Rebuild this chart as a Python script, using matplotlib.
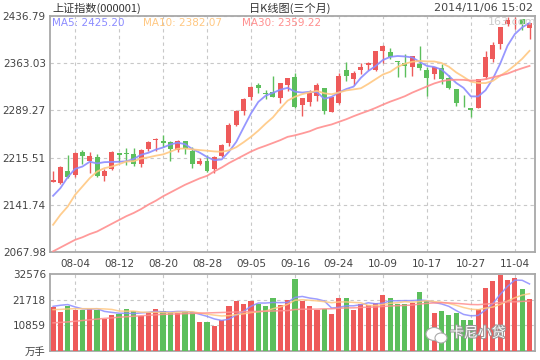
import matplotlib
matplotlib.use("Agg")
import matplotlib.pyplot as plt
import matplotlib.patheffects as pe
from matplotlib.patches import Ellipse
import numpy as np
import pandas as pd

plt.rcParams['font.family'] = ['DejaVu Sans', 'Noto Sans CJK SC']

# daily candles, 2014-07-30 .. 2014-11-06 (上证指数)
opens = [2178.1, 2175.5, 2194.8, 2188.5, 2224.4, 2210.9, 2216.6, 2187.5, 2197.4, 2222.8,
         2223.3, 2221.3, 2205.7, 2229.6, 2242.6, 2241.5, 2239.5, 2227.5, 2241.5, 2225.4,
         2206.2, 2209.8, 2197.9, 2218.7, 2238.9, 2267.0, 2288.8, 2310.7, 2328.9, 2316.9,
         2317.4, 2308.1, 2329.4, 2341.3, 2297.7, 2302.9, 2312.2, 2323.7, 2287.3, 2301.3,
         2352.3, 2338.2, 2352.8, 2360.6, 2352.3, 2382.4, 2380.3, 2365.8, 2363.2, 2357.5,
         2361.6, 2352.3, 2345.5, 2355.4, 2339.3, 2322.6, 2302.9, 2293.5, 2293.0, 2341.3,
         2369.4, 2392.3, 2425.0, 2428.7, 2431.8, 2418.8]
highs = [2194.8, 2202.5, 2219.7, 2223.9, 2227.5, 2224.4, 2221.3, 2197.4, 2225.4, 2223.3,
         2230.6, 2230.6, 2229.6, 2241.0, 2246.8, 2250.4, 2241.5, 2243.1, 2242.0, 2231.7,
         2215.6, 2219.2, 2218.1, 2236.3, 2269.1, 2289.9, 2308.1, 2327.3, 2331.5, 2321.1,
         2343.4, 2332.0, 2339.8, 2348.1, 2308.1, 2321.1, 2332.5, 2323.7, 2310.1, 2347.1,
         2364.2, 2350.2, 2363.7, 2364.7, 2381.9, 2391.2, 2387.1, 2365.8, 2376.7, 2374.1,
         2390.2, 2357.5, 2356.4, 2361.1, 2344.5, 2322.6, 2313.3, 2293.5, 2338.2, 2381.9,
         2396.4, 2419.3, 2435.4, 2435.4, 2432.8, 2425.5]
lows = [2177.1, 2174.0, 2183.3, 2185.9, 2205.2, 2192.2, 2184.9, 2179.7, 2196.3, 2208.3,
        2204.1, 2203.1, 2201.5, 2226.5, 2226.5, 2232.7, 2210.9, 2224.9, 2221.3, 2199.9,
        2203.6, 2193.2, 2191.1, 2217.1, 2233.2, 2264.9, 2282.6, 2305.5, 2315.9, 2306.5,
        2309.6, 2301.3, 2319.5, 2292.5, 2281.0, 2296.1, 2303.9, 2283.1, 2287.3, 2299.2,
        2335.6, 2328.9, 2345.5, 2352.3, 2351.2, 2363.7, 2369.4, 2340.8, 2341.9, 2343.4,
        2351.7, 2311.7, 2338.7, 2330.4, 2322.6, 2296.6, 2295.1, 2279.5, 2293.0, 2338.2,
        2365.2, 2384.5, 2421.4, 2416.7, 2414.6, 2401.6]
closes = [2180.7, 2200.5, 2184.9, 2222.8, 2218.7, 2218.2, 2187.5, 2194.8, 2224.4, 2220.2,
          2221.8, 2205.7, 2227.5, 2240.0, 2244.7, 2238.4, 2229.6, 2241.5, 2228.5, 2206.2,
          2210.9, 2195.3, 2216.1, 2234.8, 2266.5, 2288.8, 2307.0, 2325.7, 2324.7, 2315.3,
          2310.7, 2332.0, 2339.8, 2295.1, 2308.1, 2316.9, 2328.9, 2288.3, 2310.1, 2342.9,
          2342.9, 2348.1, 2357.5, 2362.6, 2381.9, 2390.2, 2372.0, 2364.7, 2359.0, 2374.1,
          2355.9, 2340.3, 2356.4, 2338.7, 2324.2, 2301.3, 2301.8, 2289.9, 2338.2, 2372.5,
          2391.2, 2419.3, 2430.2, 2429.7, 2425.0, 2425.5]
# 成交量 (万手)
volumes = [18640, 16500, 19210, 17360, 17500, 17930, 17500, 13520, 15230, 15800,
           17790, 16930, 14800, 16500, 17790, 16930, 16500, 16080, 16360, 16500,
           12240, 12240, 10530, 13090, 19210, 21200, 19920, 21200, 19920, 19210,
           22480, 19500, 21630, 30590, 21200, 19070, 17360, 17640, 15650, 22480,
           22480, 17360, 20060, 19640, 20350, 23760, 22480, 20060, 19920, 20350,
           25040, 21200, 16080, 16930, 15230, 16080, 13090, 13090, 17790, 26750,
           29740, 32300, 30170, 31020, 26330, 22060]

# MA values before the window fills (include earlier days)
ma5_head = [2155.8, 2167.8, 2184.9, 2197.9]
ma10_head = [2110.5, 2126.1, 2139.1, 2157.3, 2170.3, 2183.4, 2193.7, 2199.0, 2201.5]
ma30_head = [2069, 2075, 2081, 2087, 2091, 2096, 2100, 2106, 2112, 2118,
             2124, 2129, 2135, 2142, 2148, 2155, 2161, 2167, 2173, 2178,
             2183, 2187, 2194, 2200, 2207, 2213, 2219, 2225, 2230]
vma5_head = [18900, 19350, 19640, 18640]
vma10_head = [17500, 17600, 17800, 17900, 17900, 17900, 17900, 17800, 17600]
vma30_head = [11900, 12100, 12300, 12600, 12900, 13200, 13500, 13800, 14000, 14300,
              14500, 14700, 14900, 15100, 15300, 15500, 15600, 15700, 15800, 15900,
              16000, 16100, 16200, 16300, 16400, 16500, 16600, 16700, 16750]

xtick_pos = [3, 9, 15, 21, 27, 33, 39, 45, 51, 57, 63]
xtick_labels = ['08-04', '08-12', '08-20', '08-28', '09-05', '09-16',
                '09-24', '10-09', '10-17', '10-27', '11-04']
price_ticks = [2067.98, 2141.74, 2215.51, 2289.27, 2363.03, 2436.79]
vol_ticks = [10859, 21718, 32576]
ma_labels = ['MA5: 2425.20', 'MA10: 2382.07', 'MA30: 2359.22']

RED = '#ee5a5a'
GREEN = '#5cbf5c'
MA_COLORS = ['#8c8cff', '#ffc882', '#ff8f8f']
GRID = '#c8c8c8'
BORDER = '#a8a8a8'


def moving_avg(values, n, head):
    s = pd.Series(values, dtype=float).rolling(n).mean().to_numpy()
    s[:len(head)] = head
    return s


x = np.arange(len(closes))
o = np.array(opens)
c = np.array(closes)
up = c >= o
colors = np.where(up, RED, GREEN)

fig = plt.figure(figsize=(5.4, 3.6), dpi=100)
ax = fig.add_axes([50 / 540, 1 - 252 / 360, 485 / 540, 236 / 360])
axv = fig.add_axes([50 / 540, 1 - 351 / 360, 485 / 540, 77 / 360])

xlim = (-0.42, 65.75)

# price panel
ax.vlines(x, lows, highs, colors=colors, linewidth=1, zorder=3)
body_bot = np.minimum(o, c)
body_h = np.maximum(np.abs(c - o), 0.6)
ax.bar(x, body_h, bottom=body_bot, width=0.68, color=colors, linewidth=0, zorder=4)

for vals, n, head, col in [(closes, 5, ma5_head, MA_COLORS[0]),
                           (closes, 10, ma10_head, MA_COLORS[1]),
                           (closes, 30, ma30_head, MA_COLORS[2])]:
    ax.plot(x, moving_avg(vals, n, head), color=col, linewidth=1.3, alpha=0.9, zorder=5)

ax.set_xlim(*xlim)
ax.set_ylim(price_ticks[0], price_ticks[-1])
ax.set_yticks(price_ticks)
ax.set_yticklabels([f'{t:.2f}' for t in price_ticks])
ax.set_xticks(xtick_pos)
ax.set_xticklabels(xtick_labels)
ax.tick_params(length=0, labelsize=7.5, labelcolor='#444444', pad=3)
ax.tick_params(axis='x', pad=5)

# volume panel
axv.bar(x, volumes, width=0.7, color=colors, linewidth=0, zorder=3)
for vals, n, head, col in [(volumes, 5, vma5_head, MA_COLORS[0]),
                           (volumes, 10, vma10_head, MA_COLORS[1]),
                           (volumes, 30, vma30_head, MA_COLORS[2])]:
    axv.plot(x, moving_avg(vals, n, head), color=col, linewidth=1.1, alpha=0.85, zorder=4)
axv.set_xlim(*xlim)
axv.set_ylim(0, vol_ticks[-1])
axv.set_yticks([0] + vol_ticks)
axv.set_yticklabels(['万手'] + [str(v) for v in vol_ticks])
axv.set_xticks(xtick_pos)
axv.set_xticklabels([])
axv.tick_params(length=0, labelsize=7.5, labelcolor='#444444', pad=3)

for a in (ax, axv):
    a.grid(True, color=GRID, linestyle=(0, (3, 3)), linewidth=0.8, zorder=0)
    a.set_axisbelow(True)
    for sp in a.spines.values():
        sp.set_color(BORDER)
        sp.set_linewidth(1.3)

# grid only at inner levels for volume
axv.yaxis.get_gridlines()[0].set_visible(False)
axv.yaxis.get_gridlines()[-1].set_visible(False)

# header text
fig.text(52 / 540, 1 - 8 / 360, '上证指数(000001)', fontsize=8, color='#333333',
         va='center', ha='left', family=['Noto Sans CJK SC', 'DejaVu Sans'])
fig.text(290 / 540, 1 - 8 / 360, '日K线图(三个月)', fontsize=8, color='#333333',
         va='center', ha='center', family=['Noto Sans CJK SC', 'DejaVu Sans'])
fig.text(533 / 540, 1 - 8 / 360, '2014/11/06 15:02', fontsize=8, color='#444444',
         va='center', ha='right')

for lbl, col, px in zip(ma_labels, MA_COLORS, [52, 143, 242]):
    fig.text(px / 540, 1 - 23.5 / 360, lbl, fontsize=7.5, color=col, va='center', ha='left')

fig.text(488 / 540, 1 - 22 / 360, '163.com', fontsize=8, color='#cccccc',
         va='center', ha='left', zorder=0)

# watermark: wechat-like bubbles + name
wm = fig.add_axes([425 / 540, 1 - 346 / 360, 24 / 540, 22 / 360])
wm.set_xlim(0, 24)
wm.set_ylim(0, 22)
wm.axis('off')
wm.add_patch(Ellipse((9, 12), 16, 13, facecolor='white', edgecolor='#aaaaaa', lw=0.8))
wm.add_patch(Ellipse((16, 8), 12, 10, facecolor='white', edgecolor='#aaaaaa', lw=0.8))
fig.text(450 / 540, 1 - 333 / 360, '卡尼小贷', fontsize=10, color='white',
         va='center', ha='left', family=['Noto Sans CJK SC'],
         path_effects=[pe.withStroke(linewidth=1.5, foreground='#999999')])

fig.savefig('out.png', dpi=100)
